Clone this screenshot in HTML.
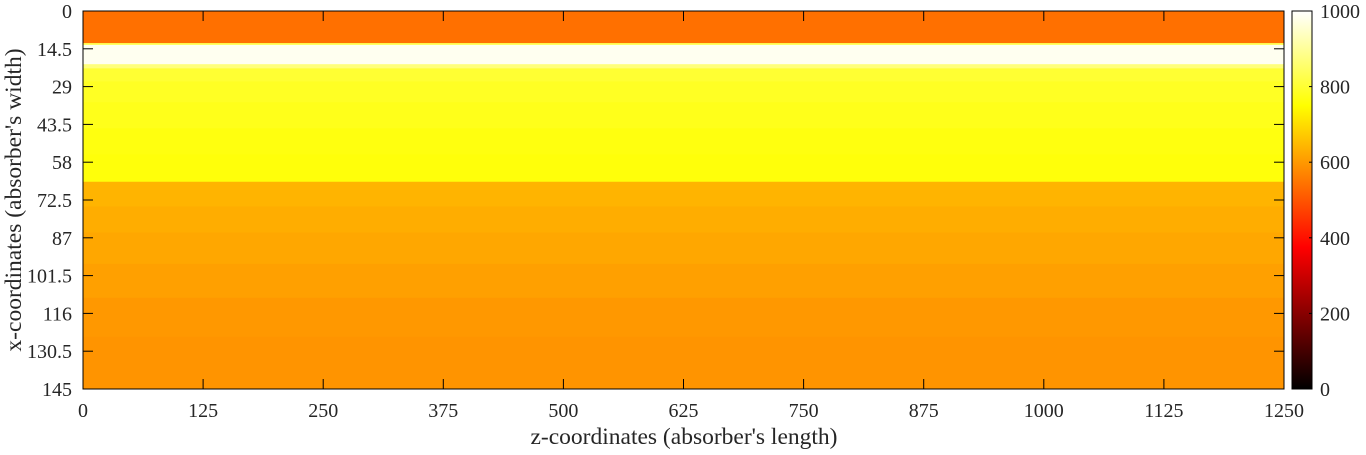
<!DOCTYPE html>
<html><head><meta charset="utf-8"><style>
body{margin:0;background:#fff;}
svg text{font-family:"Liberation Serif",serif;font-size:20px;fill:#262626;}
svg text.title{font-size:23.5px;}
</style></head><body>
<svg id="chart" width="1366" height="450" xmlns="http://www.w3.org/2000/svg">
<defs>
<linearGradient id="hotgrad" x1="0" y1="1" x2="0" y2="0">
<stop offset="0" stop-color="#000"/>
<stop offset="0.375" stop-color="#f00"/>
<stop offset="0.75" stop-color="#ff0"/>
<stop offset="1" stop-color="#fff"/>
</linearGradient>
</defs>
<g id="cells"></g>
<g id="axes"></g>
</svg>
<script>
const rowEdges = [0,12.3,13,20.4,22,27,35,45,55,65.5,75,85,97,110,125,145];
const rowValues = [540,830,985,870,800,785,775,765,760,640,630,620,610,598,592];
const xTicks = [0,125,250,375,500,625,750,875,1000,1125,1250];
const yTicks = [0,14.5,29,43.5,58,72.5,87,101.5,116,130.5,145];
const cbTicks = [0,200,400,600,800,1000];

const L=83,R=1284,T=11,B=389;
const CX0=1292,CX1=1312;
const xs=v=>L+(v-0)/(1250-0)*(R-L);
const ys=v=>T+(v-0)/(145-0)*(B-T);
const cs=v=>B-(v/1000)*(B-T);
const NS="http://www.w3.org/2000/svg";
function hot(v){const t=Math.max(0,Math.min(1,v/1000));
 const r=Math.min(1,t/0.375),g=Math.max(0,Math.min(1,(t-0.375)/0.375)),b=Math.max(0,Math.min(1,(t-0.75)/0.25));
 return `rgb(${Math.round(r*255)},${Math.round(g*255)},${Math.round(b*255)})`;}
function mk(tag,attrs,parent){const e=document.createElementNS(NS,tag);for(const k in attrs)e.setAttribute(k,attrs[k]);parent.appendChild(e);return e;}
const cells=document.getElementById('cells'),axes=document.getElementById('axes');
rowValues.forEach((v,i)=>{
 const y0=ys(rowEdges[i]),y1=ys(rowEdges[i+1]);
 const r=mk('rect',{x:L,y:y0,width:R-L,height:y1-y0+0.5,fill:hot(v)},cells);
 
 
});
const frame=mk('rect',{x:L,y:T,width:R-L,height:B-T,fill:'none',stroke:'#000','stroke-width':1},axes);


xTicks.forEach(v=>{const x=xs(v);
 mk('line',{x1:x,y1:B,x2:x,y2:B-10,stroke:'#000'},axes);
 mk('line',{x1:x,y1:T,x2:x,y2:T+10,stroke:'#000'},axes);
 const t=mk('text',{x:x,y:B+28,'text-anchor':'middle'},axes);t.textContent=v;
 
 
});
yTicks.forEach(v=>{const y=ys(v);
 mk('line',{x1:L,y1:y,x2:L+10,y2:y,stroke:'#000'},axes);
 mk('line',{x1:R,y1:y,x2:R-10,y2:y,stroke:'#000'},axes);
 const t=mk('text',{x:L-11,y:y+7,'text-anchor':'end'},axes);t.textContent=v;
 
 
});
const cb=mk('rect',{x:CX0,y:T,width:CX1-CX0,height:B-T,fill:'url(#hotgrad)',stroke:'#000'},axes);


cbTicks.forEach(v=>{const y=cs(v);
 mk('line',{x1:CX1,y1:y,x2:CX1-3,y2:y,stroke:'#000'},axes);
 const t=mk('text',{x:CX1+8,y:y+7},axes);t.textContent=v;
 
 
});
const xt=mk('text',{x:684,y:444,'text-anchor':'middle','class':'title'},axes);xt.textContent="z-coordinates (absorber's length)";


const yt=mk('text',{x:0,y:0,'text-anchor':'middle','class':'title',transform:`translate(21,${(T+B)/2}) rotate(-90)`},axes);yt.textContent="x-coordinates (absorber's width)";


</script>
</body></html>
